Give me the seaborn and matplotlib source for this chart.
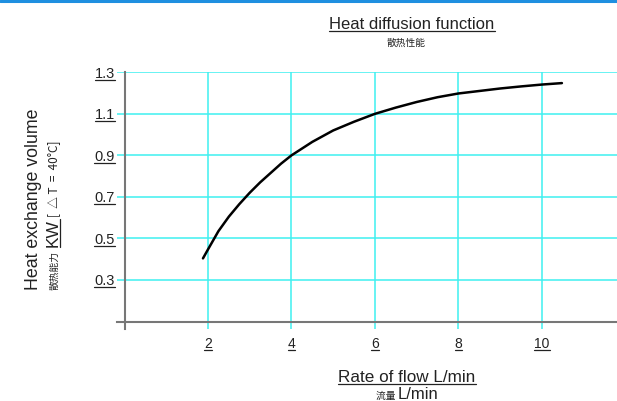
import matplotlib
matplotlib.use("Agg")
import matplotlib.pyplot as plt
import seaborn as sns
import pandas as pd
from matplotlib.lines import Line2D
from matplotlib.transforms import IdentityTransform

# values
flow = [1.88, 2.0, 2.25, 2.5, 2.75, 3.0, 3.25, 3.5, 3.75, 4.0, 4.5, 5.0, 5.5, 6.0,
        6.5, 7.0, 7.5, 8.0, 8.5, 9.0, 9.5, 10.0, 10.48]
heat = [0.404, 0.447, 0.535, 0.605, 0.665, 0.72, 0.77, 0.815, 0.86, 0.90, 0.965, 1.02, 1.062, 1.10,
        1.13, 1.157, 1.18, 1.198, 1.21, 1.222, 1.232, 1.241, 1.248]
x_ticks = [2, 4, 6, 8, 10]
y_ticks = [0.3, 0.5, 0.7, 0.9, 1.1, 1.3]

sns.set_theme(style="white")
plt.rcParams["font.family"] = ["Liberation Sans", "Noto Sans CJK SC", "DejaVu Sans"]
cjk = ["Noto Sans CJK SC", "Liberation Sans"]

W, H = 617, 401
fig = plt.figure(figsize=(W / 100, H / 100), dpi=100)
ax = fig.add_axes([116.7 / W, 1 - 329 / H, 1 - 116.7 / W, (329 - 72.3) / H])

df = pd.DataFrame({"flow": flow, "heat": heat})
sns.lineplot(data=df, x="flow", y="heat", color="black", lw=1.8, ax=ax, zorder=5)

ax.set_xlim(-0.187, 11.8)
ax.set_ylim(0.064, 1.3)
ax.set_xticks(x_ticks)
ax.set_yticks(y_ticks)
ax.set_xticklabels([str(t) for t in x_ticks])
ax.set_yticklabels([f"{t:.1f}" for t in y_ticks])
ax.set_xlabel("")
ax.set_ylabel("")
ax.grid(True, color="#3ff0f0", lw=1.1)
for s in ["top", "right"]:
    ax.spines[s].set_visible(False)
ax.spines["left"].set_position(("data", 0))
ax.spines["bottom"].set_position(("data", 0.1))
for s in ["left", "bottom"]:
    ax.spines[s].set_color("#777777")
    ax.spines[s].set_linewidth(1.5)
ax.tick_params(axis="y", direction="out", length=5.5, width=1.0, color="black",
               labelsize=10.5, pad=1.5, labelcolor="#222222")
ax.tick_params(axis="x", direction="out", length=5, width=1.2, color="#777777",
               labelsize=10, pad=6.5, labelcolor="#222222")

# blue band on top
fig.add_artist(Line2D([0, 1], [1 - 1 / H, 1 - 1 / H], color="#1e8fe0", lw=2.2))

ident = IdentityTransform()


def underline(t, r, off=1.2, lw=0.9):
    bb = t.get_window_extent(r)
    fig.add_artist(Line2D([bb.x0, bb.x1], [bb.y0 + off, bb.y0 + off],
                          transform=ident, color="#222222", lw=lw))


# titles
title = fig.text(412, H - 29.3, "Heat diffusion function", fontsize=12,
                 ha="center", va="baseline", transform=ident, color="#222222")
fig.text(406.5, H - 42.7, "散热性能", fontsize=7, family=cjk, ha="center",
         va="center", transform=ident, color="#222222")

xl = fig.text(407, H - 382.3, "Rate of flow L/min", fontsize=12.3,
              ha="center", va="baseline", transform=ident, color="#222222")

fig.text(34, H - 199, "Heat exchange volume", fontsize=12.8, rotation=90,
         ha="center", va="center", transform=ident, color="#222222")

fig.canvas.draw()
r = fig.canvas.get_renderer()
underline(title, r)
underline(xl, r)
for lab in ax.get_xticklabels() + ax.get_yticklabels():
    underline(lab, r, off=1.2)

# second x label line: small CJK + L/min
p1 = fig.text(0, H - 399, "流量 ", fontsize=7, family=cjk, ha="left",
              va="baseline", transform=ident, color="#222222")
p2 = fig.text(0, H - 399, "L/min", fontsize=12, ha="left",
              va="baseline", transform=ident, color="#222222")
w1 = p1.get_window_extent(r).width
w2 = p2.get_window_extent(r).width
x0 = 407 - (w1 + w2) / 2
p1.set_x(x0)
p2.set_x(x0 + w1)

# second y label line, placed bottom to top along a common baseline
xb = 57.5
y = H - 290
pieces = [("散热能力", 7, cjk, False, 4), ("KW", 12.5, None, True, 2),
          ("[  △ T  =  40°C]", 8.5, cjk, False, 0)]
for txt, fs, fam, ul, gap in pieces:
    kw = {"family": fam} if fam else {}
    t = fig.text(xb, y, txt, fontsize=fs, rotation=90, rotation_mode="anchor",
                 ha="left", va="baseline", transform=ident, color="#222222", **kw)
    bb = t.get_window_extent(r)
    if ul:
        fig.add_artist(Line2D([xb + 2, xb + 2], [bb.y0, bb.y1],
                              transform=ident, color="#222222", lw=0.9))
    y = bb.y1 + gap

fig.savefig("out.png", dpi=100)
